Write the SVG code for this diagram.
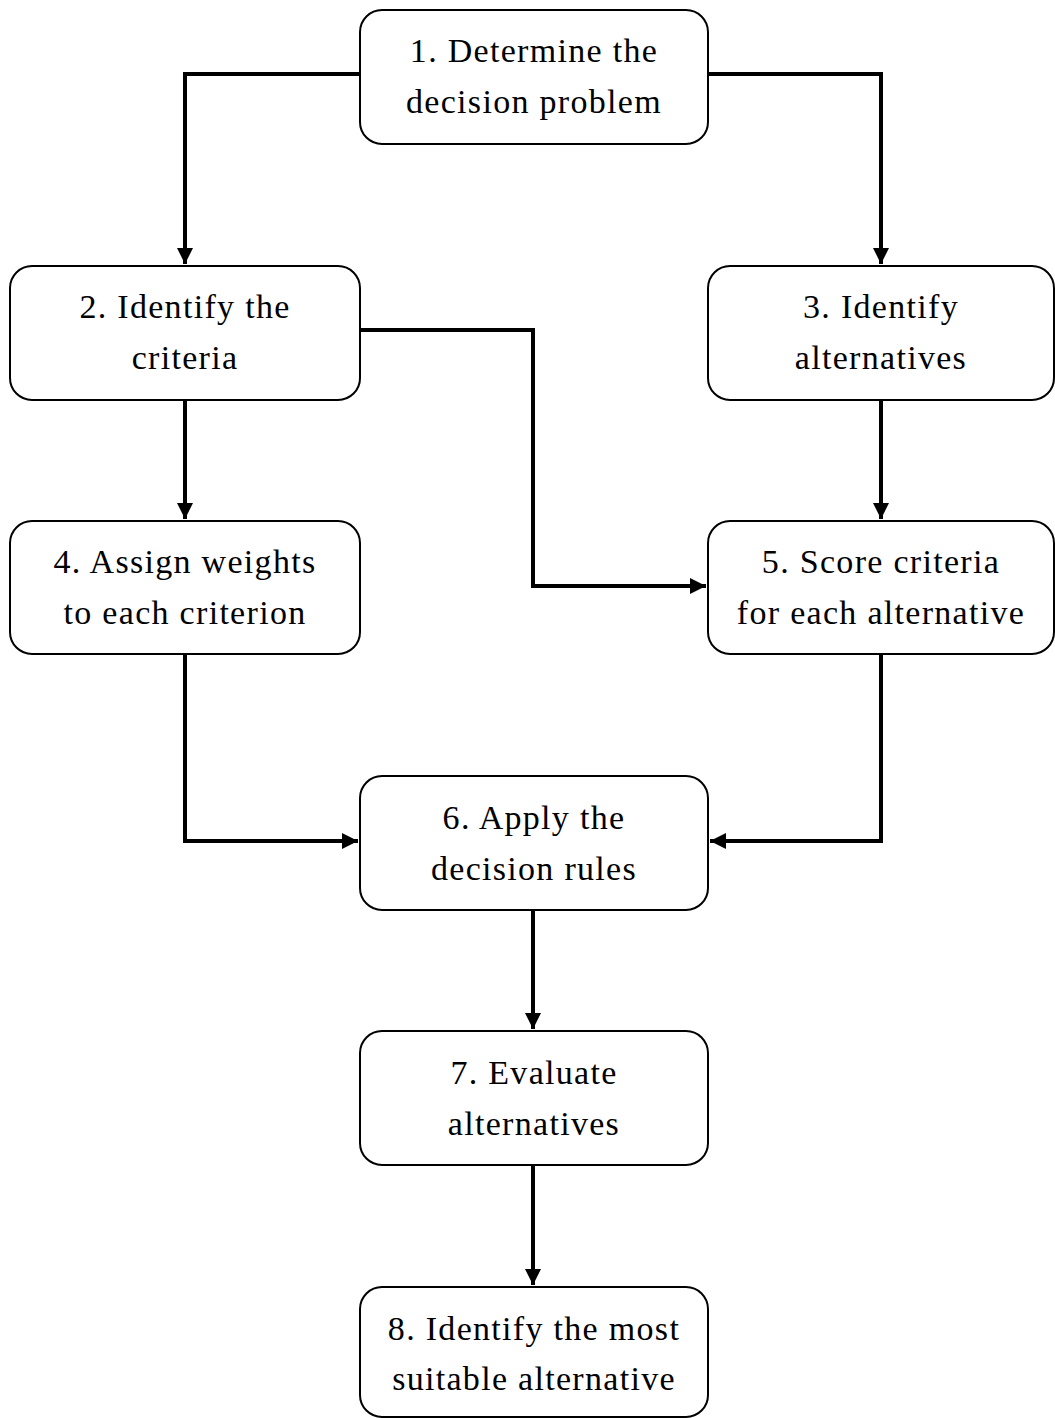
<svg xmlns="http://www.w3.org/2000/svg" width="1055" height="1418" viewBox="0 0 1055 1418">
  <style>
    .box { fill: #ffffff; stroke: #000000; stroke-width: 2; }
    .label { font-family: "Liberation Serif", "DejaVu Serif", serif; font-size: 34px; letter-spacing: 1.3px; fill: #000000; text-anchor: middle; }
    .wire { fill: none; stroke: #000000; stroke-width: 4; }
  </style>
  <defs>
    <marker id="arrow" viewBox="0 0 10 10" refX="10" refY="5" markerWidth="4" markerHeight="4" orient="auto" markerUnits="strokeWidth">
      <path d="M0,0 L10,5 L0,10 z" fill="#000000"/>
    </marker>
  </defs>
  <rect width="1055" height="1418" fill="#ffffff"/>

  <g id="connectors">
    <path class="wire" d="M360,74 H185 V264" marker-end="url(#arrow)"/>
    <path class="wire" d="M708,74 H881 V264" marker-end="url(#arrow)"/>
    <path class="wire" d="M360,330 H533 V586 H706" marker-end="url(#arrow)"/>
    <path class="wire" d="M185,400 V519" marker-end="url(#arrow)"/>
    <path class="wire" d="M881,400 V519" marker-end="url(#arrow)"/>
    <path class="wire" d="M185,654 V841 H358" marker-end="url(#arrow)"/>
    <path class="wire" d="M881,654 V841 H710" marker-end="url(#arrow)"/>
    <path class="wire" d="M533,910 V1029" marker-end="url(#arrow)"/>
    <path class="wire" d="M533,1165 V1285" marker-end="url(#arrow)"/>
  </g>

  <g id="node1">
    <rect class="box" x="360" y="10" width="348" height="134" rx="22"/>
    <text class="label" x="534" y="62">1. Determine the</text>
    <text class="label" x="534" y="113">decision problem</text>
  </g>
  <g id="node2">
    <rect class="box" x="10" y="266" width="350" height="134" rx="22"/>
    <text class="label" x="185" y="318">2. Identify the</text>
    <text class="label" x="185" y="369">criteria</text>
  </g>
  <g id="node3">
    <rect class="box" x="708" y="266" width="346" height="134" rx="22"/>
    <text class="label" x="881" y="318">3. Identify</text>
    <text class="label" x="881" y="369">alternatives</text>
  </g>
  <g id="node4">
    <rect class="box" x="10" y="521" width="350" height="133" rx="22"/>
    <text class="label" x="185" y="573">4. Assign weights</text>
    <text class="label" x="185" y="624">to each criterion</text>
  </g>
  <g id="node5">
    <rect class="box" x="708" y="521" width="346" height="133" rx="22"/>
    <text class="label" x="881" y="573">5. Score criteria</text>
    <text class="label" x="881" y="624">for each alternative</text>
  </g>
  <g id="node6">
    <rect class="box" x="360" y="776" width="348" height="134" rx="22"/>
    <text class="label" x="534" y="829">6. Apply the</text>
    <text class="label" x="534" y="880">decision rules</text>
  </g>
  <g id="node7">
    <rect class="box" x="360" y="1031" width="348" height="134" rx="22"/>
    <text class="label" x="534" y="1084">7. Evaluate</text>
    <text class="label" x="534" y="1135">alternatives</text>
  </g>
  <g id="node8">
    <rect class="box" x="360" y="1287" width="348" height="130" rx="22"/>
    <text class="label" x="534" y="1340">8. Identify the most</text>
    <text class="label" x="534" y="1390">suitable alternative</text>
  </g>
</svg>
